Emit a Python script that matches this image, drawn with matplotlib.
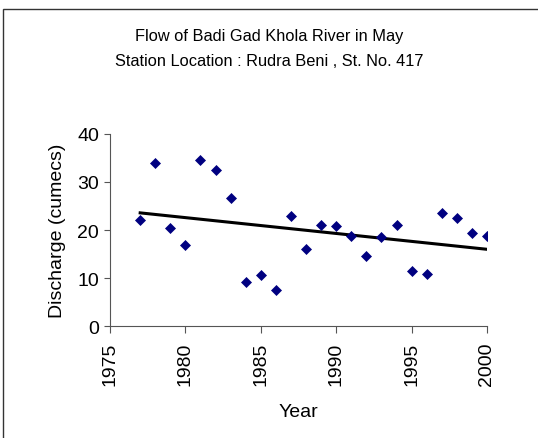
import numpy as np
import matplotlib
matplotlib.use('Agg')
import matplotlib.pyplot as plt
from matplotlib.patches import Rectangle

years = [1977, 1978, 1979, 1980, 1981, 1982, 1983, 1984, 1985, 1986, 1987, 1988,
         1989, 1990, 1991, 1992, 1993, 1994, 1995, 1996, 1997, 1998, 1999, 2000]
discharge = [22.1, 34.0, 20.4, 16.9, 34.6, 32.5, 26.7, 9.2, 10.6, 7.5, 23.0, 16.0,
             21.0, 20.8, 18.7, 14.6, 18.6, 21.0, 11.5, 10.9, 23.5, 22.4, 19.4, 18.7]

plt.rcParams['font.family'] = ['Liberation Sans', 'DejaVu Sans']

fig = plt.figure(figsize=(5.38, 4.39), dpi=100)
ax = fig.add_axes([0.2045, 0.2551, 0.7007, 0.4374])

ax.plot(years, discharge, 'D', color='#000080', markersize=5.5,
        markeredgewidth=0.5, zorder=3)

# linear trendline, as Excel draws it
slope, icpt = np.polyfit(years, discharge, 1)
x_tr = np.array([years[0], years[-1]])
ax.plot(x_tr, slope * x_tr + icpt, color='black', linewidth=2.2, zorder=2)

ax.set_xlim(1975, 2000)
ax.set_ylim(0, 40)
ax.set_xticks([1975, 1980, 1985, 1990, 1995, 2000])
ax.set_yticks([0, 10, 20, 30, 40])
ax.tick_params(axis='x', labelrotation=90, labelsize=14, direction='out',
               length=5, color='#555555', pad=6)
ax.tick_params(axis='y', labelsize=14, direction='out', length=4,
               color='#555555', pad=4)
for s in ['top', 'right']:
    ax.spines[s].set_visible(False)
for s in ['left', 'bottom']:
    ax.spines[s].set_color('#555555')
ax.set_xlabel('Year', fontsize=14, labelpad=13)
ax.set_ylabel('Discharge (cumecs)', fontsize=14, labelpad=8)

fig.text(0.5, 1 - 37 / 439, 'Flow of Badi Gad Khola River in May',
         ha='center', va='center', fontsize=11.8)
fig.text(0.5, 1 - 62 / 439, 'Station Location : Rudra Beni , St. No. 417',
         ha='center', va='center', fontsize=11.8)

fig.patches.append(Rectangle((3 / 538, -0.01), 1.0, 1 - 10 / 439 + 0.01,
                             transform=fig.transFigure, fill=False,
                             edgecolor='#333333', linewidth=1))

fig.savefig('out.png', dpi=100)
